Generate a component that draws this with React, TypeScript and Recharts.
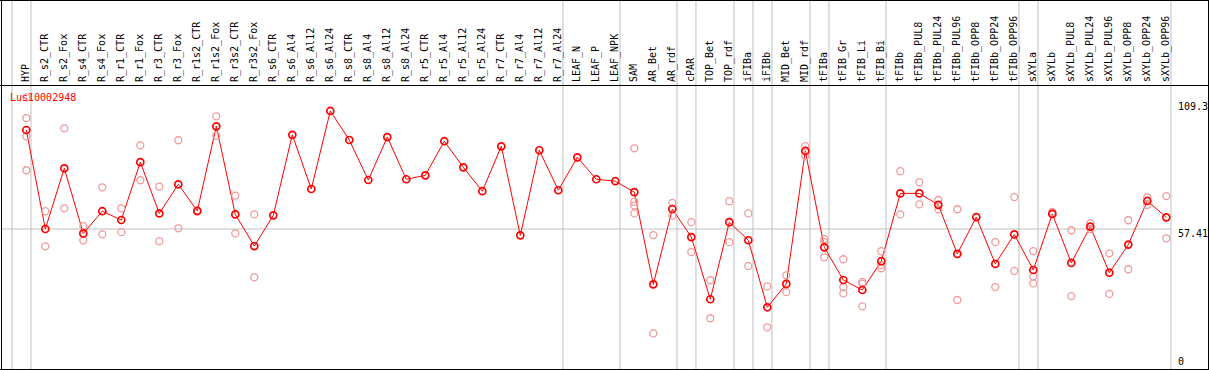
import { ComposedChart, Line, Scatter, XAxis, YAxis, ReferenceLine } from "recharts"

const categories = [
  "HYP", "R_s2_CTR", "R_s2_Fox", "R_s4_CTR", "R_s4_Fox", "R_r1_CTR", "R_r1_Fox", "R_r3_CTR", "R_r3_Fox",
  "R_r1s2_CTR", "R_r1s2_Fox", "R_r3s2_CTR", "R_r3s2_Fox", "R_s6_CTR", "R_s6_Al4", "R_s6_Al12", "R_s6_Al24",
  "R_s8_CTR", "R_s8_Al4", "R_s8_Al12", "R_s8_Al24", "R_r5_CTR", "R_r5_Al4", "R_r5_Al12", "R_r5_Al24",
  "R_r7_CTR", "R_r7_Al4", "R_r7_Al12", "R_r7_Al24", "LEAF_N", "LEAF_P", "LEAF_NPK", "SAM", "AR_Bet", "AR_rdf",
  "cPAR", "TOP_Bet", "TOP_rdf", "iFIBa", "iFIBb", "MID_Bet", "MID_rdf", "tFIBa", "tFIB_Gr", "tFIB_Li", "tFIB_Bi",
  "tFIBb", "tFIBb_PUL8", "tFIBb_PUL24", "tFIBb_PUL96", "tFIBb_OPP8", "tFIBb_OPP24", "tFIBb_OPP96",
  "sXYLa", "sXYLb", "sXYLb_PUL8", "sXYLb_PUL24", "sXYLb_PUL96", "sXYLb_OPP8", "sXYLb_OPP24", "sXYLb_OPP96",
]

const meanValues = [
  98.0, 57.4, 82.3, 55.6, 64.7, 61.1, 84.8, 63.8, 75.7, 64.8, 99.5, 63.4, 50.4, 63.0, 96.0, 73.8, 105.8,
  93.9, 77.5, 95.1, 77.8, 79.4, 93.4, 82.7, 72.9, 91.3, 54.8, 89.7, 73.3, 86.8, 77.8, 77.0, 72.5, 34.7, 65.6,
  54.1, 28.6, 60.2, 52.8, 25.3, 34.9, 89.4, 49.9, 36.5, 32.4, 44.2, 72.0, 72.0, 67.3, 47.2, 62.3, 43.1, 55.2,
  40.6, 63.6, 43.5, 58.4, 39.5, 51.0, 68.9, 62.2,
]

// one list of replicate values per category (empty = single sample)
const replicates: number[][] = [
  [111.4, 102.9, 95.4, 81.5], [64.7, 50.3], [98.7, 65.9], [58.6, 52.8], [74.5, 55.2], [65.9, 56.1],
  [91.7, 77.4], [74.8, 52.4], [93.8, 57.7], [64.6, 64.9], [103.6, 95.7], [71.1, 55.6], [63.4, 37.6],
  [], [], [], [], [], [], [], [], [], [], [], [], [], [], [], [], [], [], [],
  [90.5, 68.6, 67.0, 63.8], [54.9, 14.6], [68.1, 62.9], [60.2, 47.9], [36.4, 20.8], [68.8, 52.0],
  [63.8, 42.2], [33.9, 17.1], [38.4, 31.5], [91.4, 87.3], [53.3, 52.0, 45.8], [45.0, 33.6, 31.0],
  [35.7, 35.0, 25.7], [48.3, 42.6, 41.3], [81.1, 63.4], [76.6, 67.5], [69.3, 65.5], [65.5, 28.3], [],
  [52.0, 33.6], [70.5, 40.2], [48.3, 37.9, 35.1], [64.4, 63.8], [56.9, 29.9], [59.7, 57.4], [47.4, 30.8],
  [61.0, 40.9], [70.4, 67.3], [70.9, 53.6],
]

const yTicks = [0, 57.41, 109.3]
const groupEnds = [-1, 0, 28, 31, 34, 35, 37, 38, 39, 41, 42, 45, 52, 53, 60]

const W = 1209
const H = 370
const MONO = "'DejaVu Sans Mono', monospace"

const chartData = categories.map((c, i) => ({ idx: i, name: c, mean: meanValues[i] }))
const repData = replicates.flatMap((r, i) => r.map((v) => ({ idx: i, value: v })))

const HeaderTick = (props: any) => {
  const { x, payload } = props
  return (
    <text
      transform={`translate(${x + 3},82) rotate(-90)`}
      fontFamily={MONO}
      fontSize={10}
      fill="#000"
      textAnchor="start"
    >
      {categories[payload.value]}
    </text>
  )
}

const ValueTick = (props: any) => {
  const { y, payload } = props
  const dy = payload.value === 0 ? -4 : 8
  return (
    <text x={1178} y={y + dy} fontFamily={MONO} fontSize={10} fill="#000">
      {payload.value}
    </text>
  )
}

export default function App() {
  return (
    <div style={{ position: "absolute", left: 0, top: 0, width: W, height: H, background: "#fff" }}>
      <ComposedChart width={W} height={H} data={chartData} margin={{ top: 0, right: 0, bottom: 1, left: 1 }}>
        <XAxis
          type="number"
          dataKey="idx"
          orientation="top"
          mirror
          domain={[-1.3316, 60.247]}
          allowDataOverflow
          ticks={categories.map((_, i) => i)}
          interval={0}
          tick={<HeaderTick />}
          axisLine={false}
          tickLine={false}
        />
        <YAxis
          orientation="right"
          width={38}
          domain={[0, 151.3]}
          allowDataOverflow
          ticks={yTicks}
          interval={0}
          tick={<ValueTick />}
          axisLine={false}
          tickLine={false}
        />
        <ReferenceLine y={57.41} stroke="#c0c0c0" strokeWidth={1} />
        {groupEnds.map((k) => (
          <ReferenceLine key={k} x={k + 0.245} stroke="#c0c0c0" strokeWidth={1} />
        ))}
        <Scatter
          data={repData}
          dataKey="value"
          isAnimationActive={false}
          shape={(p: any) => (
            <circle cx={p.cx} cy={p.cy} r={3.5} fill="none" stroke="#ef9a9a" strokeWidth={1.3} />
          )}
        />
        <Line
          dataKey="mean"
          type="linear"
          stroke="#ff0000"
          strokeWidth={1}
          isAnimationActive={false}
          dot={(p: any) => (
            <circle key={p.index} cx={p.cx} cy={p.cy} r={3.5} fill="none" stroke="#ff0000" strokeWidth={1.7} />
          )}
          activeDot={false}
        />
      </ComposedChart>
      <svg
        width={W}
        height={H}
        style={{ position: "absolute", left: 0, top: 0, pointerEvents: "none" }}
        shapeRendering="crispEdges"
      >
        <line x1={0} x2={W} y1={0.5} y2={0.5} stroke="#000" />
        <line x1={0} x2={W} y1={85.5} y2={85.5} stroke="#000" />
        <line x1={0} x2={W} y1={369.5} y2={369.5} stroke="#000" />
        <line x1={1.5} x2={1.5} y1={0} y2={H} stroke="#000" />
        <line x1={1208.5} x2={1208.5} y1={0} y2={H} stroke="#000" />
        <text x={10} y={101} fontFamily={MONO} fontSize={10} fill="#ff0000" shapeRendering="auto">
          Lus10002948
        </text>
      </svg>
    </div>
  )
}
